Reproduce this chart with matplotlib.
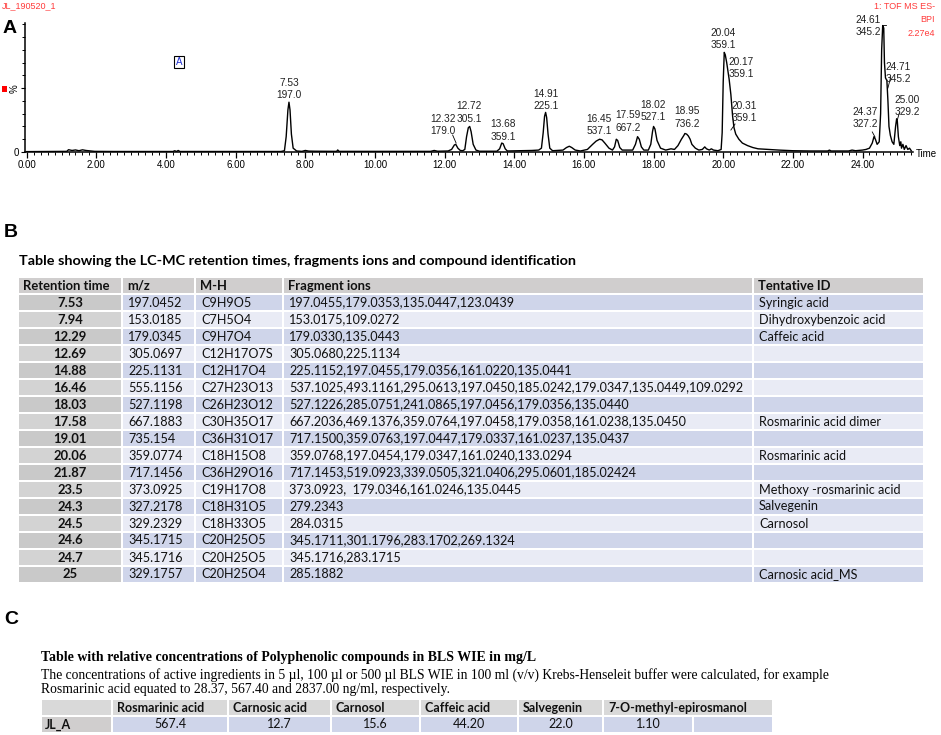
import matplotlib
matplotlib.use('Agg')
import matplotlib.pyplot as plt
from matplotlib.patches import Rectangle
from matplotlib.ticker import MultipleLocator, FormatStrFormatter

# --- Panel A: base peak chromatogram (time in min, relative intensity %) ---
time = [0.0, 1.0, 1.15, 1.2, 1.3, 1.4, 1.5, 1.6, 1.7, 1.8, 1.95, 2.5, 4.2, 4.25, 4.3, 4.35, 4.4,
        6.0, 7.3, 7.4, 7.45, 7.5, 7.53, 7.56, 7.6, 7.65, 7.75, 7.9, 8.0, 8.1, 8.3, 8.9, 8.93, 8.97,
        11.6, 11.7, 11.8, 12.1, 12.2, 12.28, 12.32, 12.38, 12.45, 12.52, 12.58, 12.63, 12.68, 12.72,
        12.76, 12.82, 12.9, 13.0, 13.5, 13.58, 13.64, 13.68, 13.74, 13.8, 14.1, 14.5, 14.7, 14.78,
        14.83, 14.87, 14.9, 14.93, 14.97, 15.02, 15.1, 15.4, 15.5, 15.58, 15.65, 15.75, 15.9, 16.1,
        16.25, 16.35, 16.45, 16.52, 16.6, 16.72, 16.82, 16.88, 16.93, 16.97, 17.03, 17.1, 17.4,
        17.48, 17.54, 17.59, 17.65, 17.72, 17.85, 17.92, 17.97, 18.0, 18.04, 18.1, 18.2, 18.35,
        18.5, 18.6, 18.7, 18.8, 18.87, 18.9, 18.95, 19.0, 19.05, 19.1, 19.2, 19.3, 19.4, 19.47,
        19.52, 19.6, 19.66, 19.72, 19.85, 19.94, 19.97, 20.0, 20.03, 20.06, 20.1, 20.17, 20.22,
        20.27, 20.31, 20.36, 20.45, 20.55, 20.7, 20.85, 21.0, 21.3, 21.6, 22.0, 22.5, 23.0, 23.05,
        23.1, 23.6, 23.7, 23.8, 24.0, 24.1, 24.2, 24.28, 24.33, 24.37, 24.42, 24.48, 24.52, 24.55,
        24.58, 24.61, 24.63, 24.66, 24.7, 24.73, 24.76, 24.8, 24.85, 24.9, 24.95, 24.98, 25.0,
        25.03, 25.07, 25.1, 25.12, 25.16, 25.2, 25.25, 25.3, 25.35, 25.4]
intensity = [0.3, 0.4, 0.5, 1.8, 1.2, 1.6, 1.0, 1.7, 1.2, 0.9, 0.5, 0.4, 0.4, 1.0, 0.4, 1.2, 0.4,
             0.4, 0.4, 1.0, 12, 33, 39, 33, 14, 3, 0.8, 0.5, 1.2, 0.7, 0.6, 0.5, 1.6, 0.5,
             0.5, 1.2, 0.6, 0.8, 2, 5.5, 6, 3, 1.2, 1.0, 2, 12, 19, 20,
             16, 6, 1.5, 0.6, 0.6, 2.5, 7, 6.5, 2.5, 0.8, 1.0, 1.2, 1.5, 3,
             15, 28, 31, 27, 14, 3, 1.0, 1.5, 3.5, 4.5, 3.5, 1.5, 0.8, 2,
             6, 8.5, 10, 9.5, 7, 3, 1.5, 4, 10, 9, 3.5, 1.5, 1.5,
             6, 12, 10, 4, 1.5, 1.5, 6, 16, 20, 18, 9, 3, 1.5,
             2.5, 2.0, 5, 10, 13, 14.5, 14, 12.5, 10, 6, 3, 1.5, 2, 4,
             2.5, 1.5, 2.5, 1.5, 1.0, 2, 15, 55, 78, 76, 70, 57, 45,
             28, 19, 14, 10, 7, 5, 3.5, 2.5, 2, 1.5, 1.0, 0.8, 0.8, 1.5,
             0.8, 0.8, 1.5, 1.0, 1.5, 2, 3, 7, 12, 10, 6, 8, 30, 80,
             99, 97, 70, 58, 56, 40, 20, 13, 8, 6, 20, 26, 24,
             12, 5, 8, 3, 6, 2, 5, 2, 3, 1]

peak_rt = ['7.53', '12.32', '12.72', '13.68', '14.91', '16.45', '17.59', '18.02', '18.95',
           '20.04', '20.17', '20.31', '24.37', '24.61', '24.71', '25.00']
peak_mz = ['197.0', '179.0', '305.1', '359.1', '225.1', '537.1', '667.2', '527.1', '736.2',
           '359.1', '359.1', '359.1', '327.2', '345.2', '345.2', '329.2']
# label anchor positions (time, %) as placed in the figure
lbl_x = [7.53, 11.95, 12.70, 13.68, 14.91, 16.43, 17.27, 17.99, 18.96,
         19.99, 20.51, 20.60, 24.07, 24.16, 25.02, 25.28]
lbl_y = [49.3, 21.1, 30.9, 16.8, 40.7, 21.1, 23.9, 32.1, 27.0,
         88.5, 65.8, 31.3, 26.6, 98.7, 61.9, 36.0]
leaders = [((12.23, 13.3), (12.33, 7.0)), ((20.34, 21.9), (20.22, 17.2)),
           ((24.28, 15.7), (24.36, 11.7)), ((24.56, 99.5), (24.67, 99.5)),
           ((24.81, 58.7), (24.73, 50.1)), ((25.06, 30.8), (25.0, 25.1))]

# --- Panel B table ---
hdr_b = ['Retention time', 'm/z', 'M-H', 'Fragment ions', 'Tentative ID']
rt = ['7.53', '7.94', '12.29', '12.69', '14.88', '16.46', '18.03', '17.58', '19.01', '20.06',
      '21.87', '23.5', '24.3', '24.5', '24.6', '24.7', '25']
mz = ['197.0452', '153.0185', '179.0345', '305.0697', '225.1131', '555.1156', '527.1198',
      '667.1883', '735.154', '359.0774', '717.1456', '373.0925', '327.2178', '329.2329',
      '345.1715', '345.1716', '329.1757']
mh = ['C9H9O5', 'C7H5O4', 'C9H7O4', 'C12H17O7S', 'C12H17O4', 'C27H23O13', 'C26H23O12',
      'C30H35O17', 'C36H31O17', 'C18H15O8', 'C36H29O16', 'C19H17O8', 'C18H31O5', 'C18H33O5',
      'C20H25O5', 'C20H25O5', 'C20H25O4']
frags = ['197.0455,179.0353,135.0447,123.0439',
         '153.0175,109.0272',
         '179.0330,135.0443',
         '305.0680,225.1134',
         '225.1152,197.0455,179.0356,161.0220,135.0441',
         '537.1025,493.1161,295.0613,197.0450,185.0242,179.0347,135.0449,109.0292',
         '527.1226,285.0751,241.0865,197.0456,179.0356,135.0440',
         '667.2036,469.1376,359.0764,197.0458,179.0358,161.0238,135.0450',
         '717.1500,359.0763,197.0447,179.0337,161.0237,135.0437',
         '359.0768,197.0454,179.0347,161.0240,133.0294',
         '717.1453,519.0923,339.0505,321.0406,295.0601,185.02424',
         '373.0923,  179.0346,161.0246,135.0445',
         '279.2343',
         '284.0315',
         '345.1711,301.1796,283.1702,269.1324',
         '345.1716,283.1715',
         '285.1882']
tent_id = ['Syringic acid', 'Dihydroxybenzoic acid', 'Caffeic acid', '', '', '', '',
           'Rosmarinic acid dimer', '', 'Rosmarinic acid', '', 'Methoxy -rosmarinic acid',
           'Salvegenin', 'Carnosol', '', '', 'Carnosic acid_MS']

# --- Panel C table ---
compounds = ['Rosmarinic acid', 'Carnosic acid', 'Carnosol', 'Caffeic acid', 'Salvegenin',
             '7-O-methyl-epirosmanol']
conc = ['567.4', '12.7', '15.6', '44.20', '22.0', '1.10']
sample = 'JL_A'

W, H = 941, 735
fig = plt.figure(figsize=(W / 100, H / 100), dpi=100)

# overlay in pixel coordinates for text and tables
ov = fig.add_axes([0, 0, 1, 1])
ov.set_xlim(0, W)
ov.set_ylim(H, 0)
ov.axis('off')

red = '#ff3b3b'
ink = '#111111'
sans = 'Liberation Sans'
tab = 'Lato'

# ---------- A ----------
ax = fig.add_axes([25 / W, 1 - 152 / H, 888 / W, 129 / H])
ax.patch.set_alpha(0)
ax.plot(time, intensity, color='black', lw=1.0)
ax.set_xlim(-0.05, 25.45)
ax.set_ylim(0, 101)
ax.spines['top'].set_visible(False)
ax.spines['right'].set_visible(False)
ax.xaxis.set_major_locator(MultipleLocator(2))
ax.xaxis.set_minor_locator(MultipleLocator(0.2))
ax.xaxis.set_major_formatter(FormatStrFormatter('%.2f'))
ax.set_yticks([0, 50], ['0', '%'])
ax.yaxis.set_minor_locator(MultipleLocator(10))
ax.get_yticklabels()[1].set_rotation(90)
ax.tick_params(axis='x', which='major', length=4, width=0.9, labelsize=7, pad=2)
ax.tick_params(axis='x', which='minor', length=2.5, width=0.7)
ax.tick_params(axis='y', which='major', length=3, width=0.8, labelsize=7, pad=1)
ax.tick_params(axis='y', which='minor', length=2, width=0.7)
for lab in ax.get_xticklabels() + ax.get_yticklabels():
    lab.set_fontfamily(sans)
for s in ['left', 'bottom']:
    ax.spines[s].set_linewidth(1.1)

for t, m, x, y in zip(peak_rt, peak_mz, lbl_x, lbl_y):
    ax.text(x, y, t + '\n' + m, ha='center', va='center', fontsize=7.3, family=sans,
            linespacing=1.3, color='#222222')
for (x0, y0), (x1, y1) in leaders:
    ax.plot([x0, x1], [y0, y1], color='black', lw=0.6)

ov.text(2, 6, 'JL_190520_1', color=red, fontsize=6.5, family=sans, va='center', ha='left')
ov.text(935, 6, '1: TOF MS ES-', color=red, fontsize=6.5, family=sans, va='center', ha='right')
ov.text(935, 19, 'BPI', color=red, fontsize=6.5, family=sans, va='center', ha='right')
ov.text(935, 33, '2.27e4', color=red, fontsize=6.5, family=sans, va='center', ha='right')
ov.add_patch(Rectangle((2, 86), 5, 6, facecolor='red', edgecolor='none'))
ov.text(916, 154, 'Time', fontsize=7, family=sans, va='center', ha='left')
ov.text(179, 62, 'A', color='#2030d0', fontsize=7, family=sans, ha='center', va='center',
        bbox=dict(boxstyle='square,pad=0.15', facecolor='white', edgecolor='black', lw=0.8))
ov.text(3, 28, 'A', fontsize=14, fontweight='bold', family=sans, va='center', ha='left')


def cell(x0, x1, y0, y1, color):
    ov.add_patch(Rectangle((x0 + 0.8, y0 + 0.8), x1 - x0 - 1.6, y1 - y0 - 1.6,
                           facecolor=color, edgecolor='none'))


# ---------- B ----------
ov.text(4, 232, 'B', fontsize=14, fontweight='bold', family=sans, va='center', ha='left')
ov.text(19, 261, 'Table showing the LC-MC retention times, fragments ions and compound identification',
        fontsize=10.4, fontweight='bold', family=tab, va='center', ha='left')
cols_b = [18, 122, 195, 283, 753, 924]
top_b, pitch_b = 277, 17.0
for j, h in enumerate(hdr_b):
    cell(cols_b[j], cols_b[j + 1], top_b, top_b + pitch_b, '#d0cece')
    ov.text(cols_b[j] + 5, top_b + pitch_b / 2, h, fontsize=9.4, fontweight='bold',
            family=tab, va='center', ha='left', color=ink)
for i, row in enumerate(zip(rt, mz, mh, frags, tent_id)):
    y0 = top_b + pitch_b * (i + 1)
    yc = y0 + pitch_b / 2
    blue = '#cfd5ea' if i % 2 == 0 else '#e9ebf5'
    cell(cols_b[0], cols_b[1], y0, y0 + pitch_b, '#c9c9c9' if i % 2 == 0 else '#d3d3d3')
    ov.text((cols_b[0] + cols_b[1]) / 2, yc, row[0], fontsize=9.4, fontweight='bold',
            family=tab, va='center', ha='center', color=ink)
    for j in range(1, 5):
        cell(cols_b[j], cols_b[j + 1], y0, y0 + pitch_b, blue)
        ov.text(cols_b[j] + 6, yc, row[j], fontsize=9.1, family=tab, va='center',
                ha='left', color=ink)

# ---------- C ----------
ov.text(4, 620, 'C', fontsize=14, fontweight='bold', family=sans, va='center', ha='left')
serif = 'Liberation Serif'
ov.text(41, 658, 'Table with relative concentrations of Polyphenolic compounds in BLS WIE in mg/L',
        fontsize=10.0, fontweight='bold', family=serif, va='center', ha='left')
ov.text(41, 675, 'The concentrations of active ingredients in 5 \u00b5l, 100 \u00b5l or 500 \u00b5l BLS WIE '
        'in 100 ml (v/v) Krebs-Henseleit buffer were calculated, for example',
        fontsize=9.8, family=serif, va='center', ha='left')
ov.text(41, 689, 'Rosmarinic acid equated to 28.37, 567.40 and 2837.00 ng/ml, respectively.',
        fontsize=9.8, family=serif, va='center', ha='left')
cols_c = [41, 112, 228, 331, 420, 518, 603, 693, 773]
top_c, pitch_c = 699, 17.0
# header: blank corner cell, one cell per compound (last spans the spare column)
cell(cols_c[0], cols_c[1], top_c, top_c + pitch_c, '#d9d9d9')
cell(cols_c[0], cols_c[1], top_c + pitch_c, top_c + 2 * pitch_c, '#d0cece')
cell(cols_c[-2], cols_c[-1], top_c + pitch_c, top_c + 2 * pitch_c, '#cfd5ea')
ov.text(cols_c[0] + 4, top_c + 1.5 * pitch_c, sample, fontsize=9, fontweight='bold',
        family=tab, va='center', ha='left', color=ink)
for j, (c, v) in enumerate(zip(compounds, conc)):
    x0, x1 = cols_c[j + 1], cols_c[j + 2]
    hx1 = cols_c[-1] if j == len(compounds) - 1 else x1
    cell(x0, hx1, top_c, top_c + pitch_c, '#d9d9d9')
    cell(x0, x1, top_c + pitch_c, top_c + 2 * pitch_c, '#cfd5ea')
    ov.text(x0 + 5, top_c + pitch_c / 2, c, fontsize=9, fontweight='bold', family=tab,
            va='center', ha='left', color=ink)
    ov.text((x0 + x1) / 2, top_c + 1.5 * pitch_c, v, fontsize=9, family=tab,
            va='center', ha='center', color=ink)

fig.savefig('out.png', dpi=100)
